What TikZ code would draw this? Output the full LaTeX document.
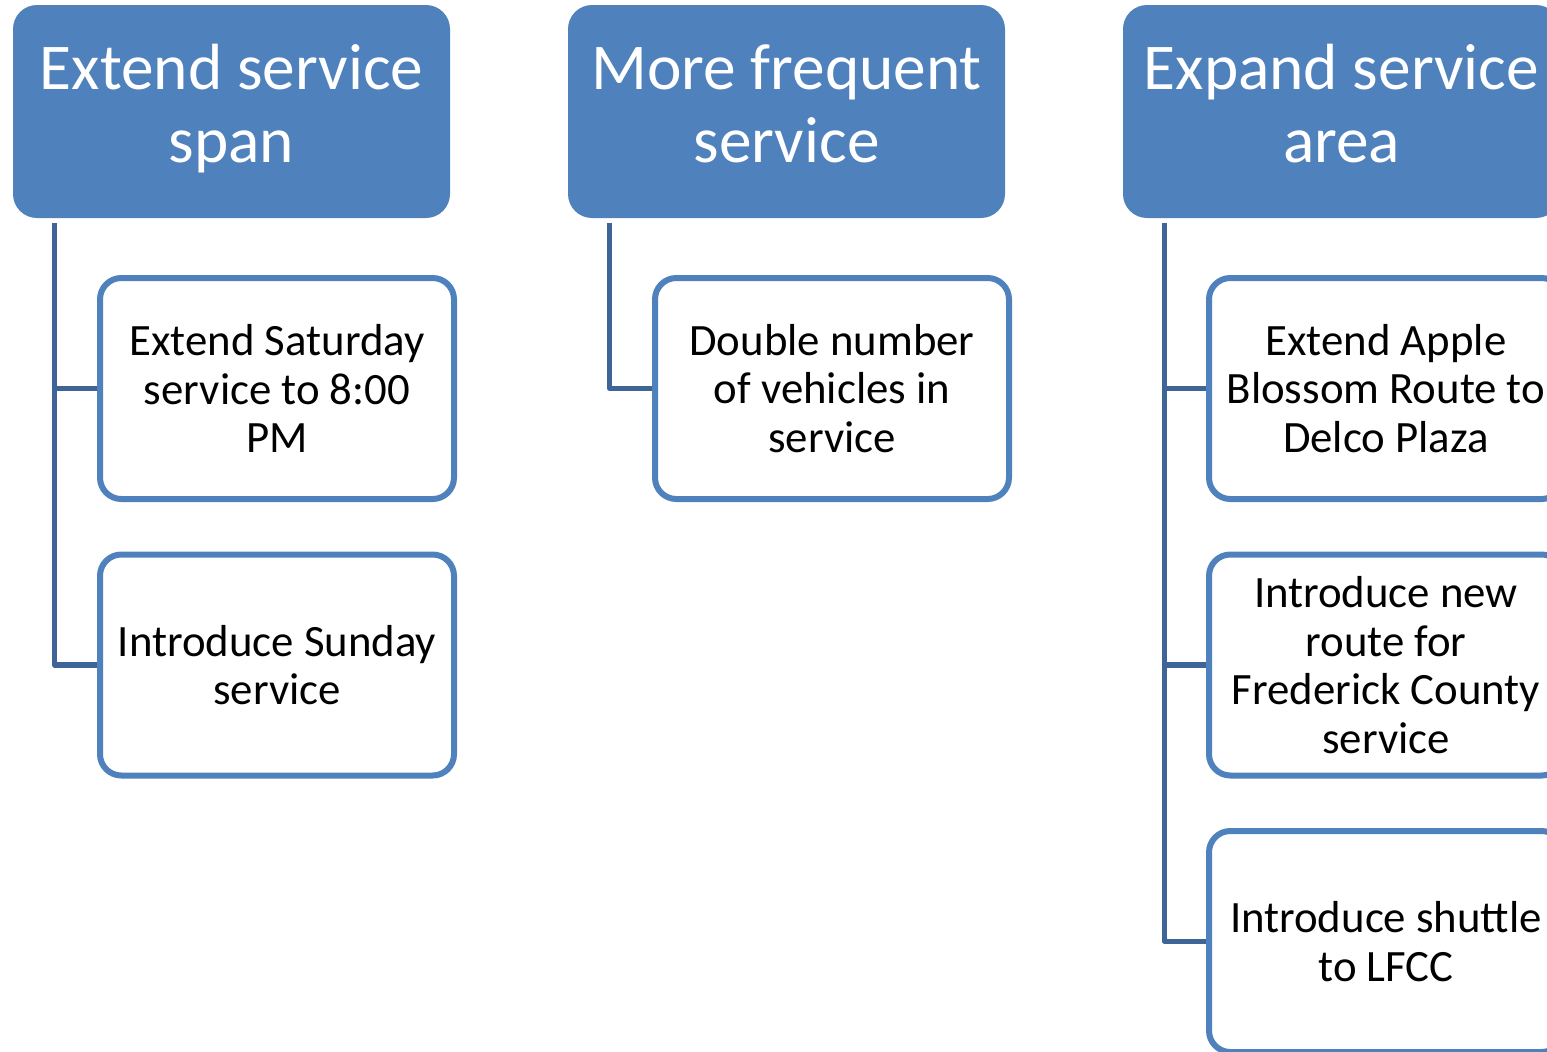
\documentclass[tikz,border=0pt]{standalone}
\usepackage{fontspec}
\setmainfont{Carlito}

\definecolor{boxblue}{RGB}{79,129,189}
\definecolor{linkblue}{RGB}{63,100,151}

\begin{document}
\begin{tikzpicture}[
    x=0.75pt, y=-0.75pt,
    hd/.style={rectangle, rounded corners=18pt, fill=boxblue, text=white,
               align=center, inner sep=0pt,
               minimum width=327.75pt, minimum height=159.75pt,
               font=\fontsize{49pt}{54.8pt}\selectfont},
    sub/.style={rectangle, rounded corners=16pt, draw=boxblue, fill=white,
                line width=4.5pt, align=center, inner sep=0pt,
                minimum width=265.5pt, minimum height=165.75pt,
                font=\fontsize{33.6pt}{36.4pt}\selectfont},
    link/.style={draw=linkblue, line width=4pt, line join=round}
  ]
    \useasboundingbox (0,0) rectangle (1547,1051);
    \clip (0,0) rectangle (1547,1051);

    %% --- Headings ---
    \node[hd] (hdSpan) at (231.5, 111.5) {\strut Extend service\\span\strut};
    \node[hd] (hdFreq) at (786.5, 111.5) {\strut More frequent\\service\strut};
    \node[hd] (hdArea) at (1341.5, 111.5) {\strut Expand service\\area\strut};

    %% --- First column ---
    \node[sub] (spanSat) at (277, 388.5) {Extend Saturday\\service to 8:00\\PM};
    \node[sub] (spanSun) at (277, 665) {Introduce Sunday\\service};

    %% --- Second column ---
    \node[sub] (freqVeh) at (832, 388.5) {Double number\\of vehicles in\\service};

    %% --- Third column ---
    \node[sub] (areaApple) at (1386, 388.5) {Extend Apple\\Blossom Route to\\Delco Plaza};
    \node[sub] (areaFred) at (1386, 665) {Introduce new\\route for\\Frederick County\\service};
    \node[sub] (areaLfcc) at (1386, 941.5) {Introduce shuttle\\to LFCC};

    %% --- Links ---
    \draw[link] ([shift={(42,5)}]hdSpan.south west) |- (spanSat.west);
    \draw[link] ([shift={(42,5)}]hdSpan.south west) |- (spanSun.west);
    \draw[link] ([shift={(42,5)}]hdFreq.south west) |- (freqVeh.west);
    \draw[link] ([shift={(42,5)}]hdArea.south west) |- (areaApple.west);
    \draw[link] ([shift={(42,5)}]hdArea.south west) |- (areaFred.west);
    \draw[link] ([shift={(42,5)}]hdArea.south west) |- (areaLfcc.west);
  \end{tikzpicture}
\end{document}
